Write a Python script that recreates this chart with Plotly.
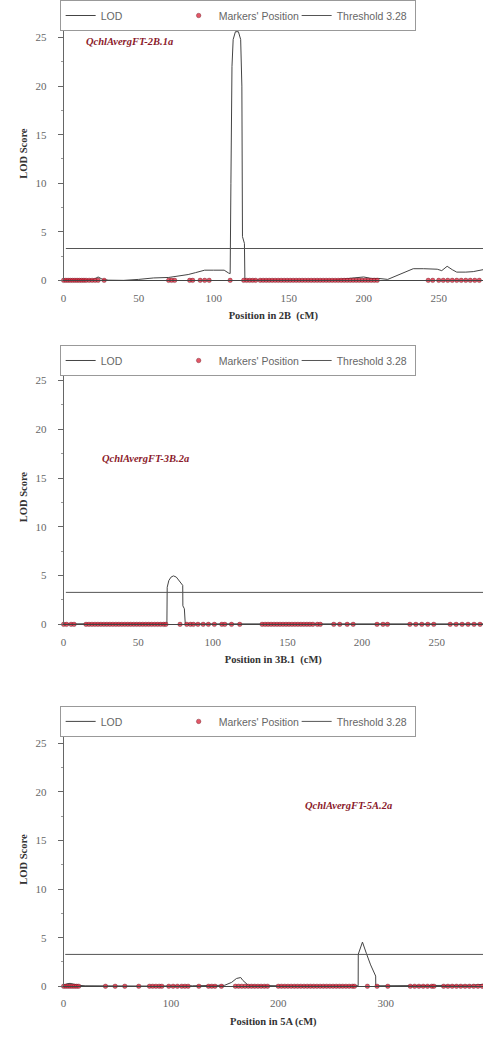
import plotly.graph_objects as go

# ---------------- data ----------------
THRESHOLD = 3.28

lod1_x = [0, 10, 20, 23, 26, 30, 40, 50, 60, 70, 78, 83, 88, 94, 100, 107, 110, 111, 111.5, 112.2, 113, 114.5,
          116.5, 118, 118.8, 119.2, 120.5, 120.8, 122, 140, 160, 180, 195, 200, 205, 210, 216, 222, 228, 233,
          240, 249, 252, 255.6, 259, 262, 268, 273, 279.5]
lod1_y = [0.05, 0.05, 0.1, 0.35, 0.1, 0.02, 0.0, 0.1, 0.25, 0.3, 0.45, 0.6, 0.8, 1.05, 1.05, 1.05, 0.75, 0.7,
          10, 22, 24.8, 25.6, 25.6, 24.8, 20, 4.5, 3.8, 0.2, 0.05, 0.02, 0.02, 0.05, 0.25, 0.35, 0.2, 0.2, 0.1,
          0.5, 0.9, 1.2, 1.2, 1.15, 1.0, 1.45, 1.1, 0.85, 0.85, 0.9, 1.1]
mk1 = [0, 1.5, 3, 4.5, 6, 7.5, 9, 10.5, 12, 13.5, 15, 17, 19, 21, 23, 27, 70, 72, 74, 84, 86, 91, 94, 97, 111,
       120, 122, 124, 126, 128, 131, 133, 135, 137, 139, 141, 143, 145, 147, 149, 151, 153, 155, 157, 159, 161,
       163, 165, 167, 169, 171, 173, 175, 177, 179, 181, 183, 185, 187, 189, 191, 193, 195, 197, 199, 201, 203,
       205, 207, 209, 243, 246, 250, 253, 256, 259, 262, 265, 268, 271, 274, 277, 280]

lod2_x = [0, 20, 40, 60, 68, 69.2, 69.4, 70.5, 72, 73.6, 75.5, 77.5, 79.8, 79.9, 80.9, 81.5, 100, 130, 160, 200,
          250, 281]
lod2_y = [0.05, 0.05, 0.05, 0.05, 0.1, 0.1, 3.8, 4.5, 4.85, 4.97, 4.85, 4.5, 4.0, 1.9, 1.6, 0.05, 0.05, 0.05,
          0.05, 0.05, 0.05, 0.05]
mk2 = [0, 2, 5, 7, 15, 17, 19, 21, 23, 25, 27, 29, 31, 33, 35, 37, 39, 41, 43, 45, 47, 49, 51, 53, 55, 57, 59,
       61, 63, 65, 67, 68.5, 78, 82.5, 85, 87, 90, 93.5, 97, 101, 106, 108, 112.5, 118, 133, 135, 137, 139, 141,
       143, 145, 147, 149, 151, 153, 155, 157, 159, 161, 163, 165, 167, 170, 172, 181, 185, 190, 194, 210, 214,
       217, 232, 236, 240, 244, 248, 259, 263, 267, 271, 275, 279]

lod3_x = [0, 3, 6, 10, 14, 20, 40, 80, 120, 150, 156.5, 161, 165, 167, 172, 200, 250, 272, 274.4, 274.5, 278.4,
          282, 286, 290.7, 290.8, 292, 320, 350, 380, 390.7]
lod3_y = [0.1, 0.25, 0.3, 0.2, 0.1, 0.05, 0.02, 0.02, 0.05, 0.1, 0.4, 0.8, 0.9, 0.6, 0.1, 0.05, 0.05, 0.05,
          0.05, 3.3, 4.55, 3.4, 2.2, 1.05, 0.1, 0.05, 0.05, 0.05, 0.1, 0.2]
mk3 = [0, 2, 4, 6, 8, 10, 12, 14, 39, 48, 57, 70, 80, 83, 86, 89, 91.5, 98, 102, 106, 110, 113, 116, 126, 135,
       138, 141, 147, 160, 163, 166, 169, 172, 175, 178, 181, 184, 187, 190, 200, 203, 206, 209, 212, 215, 218,
       221, 224, 227, 230, 233, 236, 239, 242, 245, 248, 251, 254, 257, 260, 263, 266, 269, 271, 283, 292, 302,
       323, 327, 331, 335, 339, 343, 345, 354, 358, 362, 366, 370, 374, 378, 382, 386, 390]

x_titles = ["Position in 2B  (cM)", "Position in 3B.1  (cM)", "Position in 5A (cM)"]
qtl_labels = ["QchlAvergFT-2B.1a", "QchlAvergFT-3B.2a", "QchlAvergFT-5A.2a"]
qtl_pos = [(43.7, 24.6), (54.6, 17.0), (265, 18.6)]
x_max = [279.5, 281, 390.7]
x_dtick = [50, 50, 100]
y_ticks = [0, 5, 10, 15, 20, 25]

panels = [(lod1_x, lod1_y, mk1), (lod2_x, lod2_y, mk2), (lod3_x, lod3_y, mk3)]

# ---------------- layout geometry ----------------
H = 1038
W = 483
y_dom = [(282, 27), (628, 372), (992, 737)]   # (bottom px, top px)
legend_top = [0, 347, 710]

SERIF = "Liberation Serif"
SANS = "Liberation Sans"
GRAY = "#666666"

fig = go.Figure()
layout = dict(
    width=W, height=H,
    margin=dict(l=0, r=0, t=0, b=0),
    paper_bgcolor="white", plot_bgcolor="white",
    showlegend=True,
    annotations=[],
)

for i, (lx, ly, mk) in enumerate(panels):
    n = "" if i == 0 else str(i + 1)
    xa, ya = "x" + n, "y" + n
    lg = "legend" + n
    fig.add_trace(go.Scatter(x=lx, y=ly, mode="lines", name="LOD", xaxis=xa, yaxis=ya, legend=lg,
                             line=dict(color="#444444", width=1)))
    fig.add_trace(go.Scatter(x=mk, y=[0] * len(mk), mode="markers", name="Markers' Position",
                             xaxis=xa, yaxis=ya, legend=lg, cliponaxis=False,
                             marker=dict(color="rgba(220,45,65,0.8)", size=4.5,
                                         line=dict(color="rgba(90,15,25,0.6)", width=0.6))))
    fig.add_trace(go.Scatter(x=[1.5, x_max[i]], y=[THRESHOLD, THRESHOLD], mode="lines",
                             name="Threshold 3.28", xaxis=xa, yaxis=ya, legend=lg,
                             line=dict(color="#555555", width=1)))
    bot, top = y_dom[i]
    layout["xaxis" + n] = dict(
        domain=[61 / W, 1], anchor=ya, range=[0, x_max[i]], dtick=x_dtick[i], tick0=0,
        showline=True, linecolor="#444444", linewidth=1, ticks="outside", ticklen=7, tickcolor="rgba(0,0,0,0)",
        showgrid=False, zeroline=False,
        tickfont=dict(family=SERIF, size=11, color=GRAY),
        title=dict(text="<b>" + x_titles[i] + "</b>", font=dict(family=SERIF, size=10.5, color="#333333"),
                   standoff=9),
    )
    layout["yaxis" + n] = dict(
        domain=[1 - bot / H, 1 - top / H], anchor=xa, range=[0, 26.1],
        tickvals=y_ticks, showline=True, linecolor=GRAY, linewidth=1,
        ticks="outside", ticklen=5, tickcolor=GRAY, showgrid=False, zeroline=False,
        ticklabelstandoff=9,
        minor=dict(dtick=2.5, ticks="outside", ticklen=2, tickcolor="#999999"),
        tickfont=dict(family=SERIF, size=11, color=GRAY),
        title=dict(text="<b>LOD Score</b>", font=dict(family=SERIF, size=10.5, color="#333333"), standoff=5),
    )
    layout[lg] = dict(
        orientation="h", x=57 / W, xanchor="left", y=1 - legend_top[i] / H, yanchor="top",
        bgcolor="white", bordercolor="#999999", borderwidth=1,
        font=dict(family=SANS, size=10.5, color=GRAY),
        entrywidth=73, itemwidth=30, tracegroupgap=0,
    )
    layout["annotations"].append(dict(
        x=qtl_pos[i][0], y=qtl_pos[i][1], xref=xa, yref=ya, showarrow=False,
        text="<b><i>" + qtl_labels[i] + "</i></b>",
        font=dict(family=SERIF, size=10.5, color="#8b1a2b"),
    ))

fig.update_layout(**layout)
fig.write_html("out.html")
